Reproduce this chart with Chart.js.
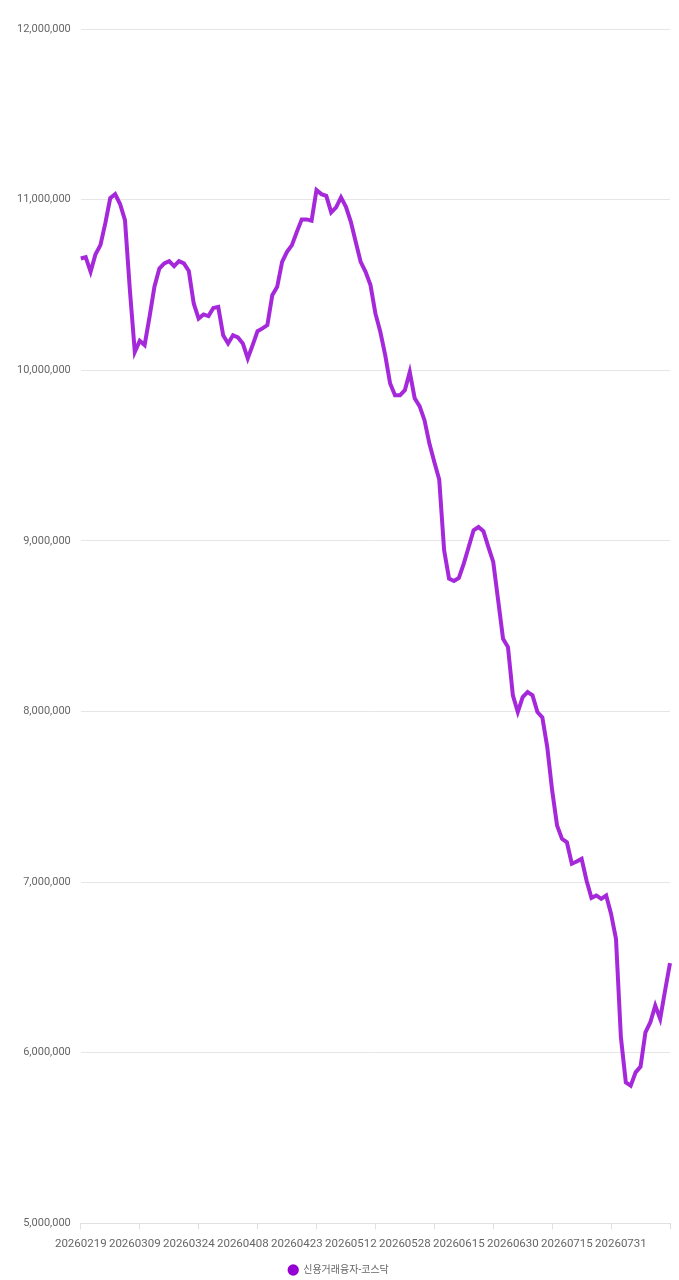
<!DOCTYPE html>
<html lang="ko">
<head>
<meta charset="utf-8">
<title>신용거래융자-코스닥</title>
<script src="https://cdn.jsdelivr.net/npm/chart.js@4.4.1/dist/chart.umd.min.js"></script>
<style>
    html, body { margin: 0; padding: 0; background: #ffffff; }
    #wrap { position: relative; width: 679px; height: 1280px; }
</style>
</head>
<body>
<div id="wrap"><canvas id="creditChart"></canvas></div>
<script>
// Trading days shown on the x axis
const dates = [
    '20260219', '20260220', '20260223', '20260224', '20260225', '20260226', '20260227',
    '20260303', '20260304', '20260305', '20260306', '20260309', '20260310', '20260311',
    '20260312', '20260313', '20260316', '20260317', '20260318', '20260319', '20260320',
    '20260323', '20260324', '20260325', '20260326', '20260327', '20260330', '20260331',
    '20260401', '20260402', '20260403', '20260406', '20260407', '20260408', '20260409',
    '20260410', '20260413', '20260414', '20260415', '20260416', '20260417', '20260420',
    '20260421', '20260422', '20260423', '20260424', '20260427', '20260428', '20260429',
    '20260430', '20260504', '20260506', '20260507', '20260508', '20260511', '20260512',
    '20260513', '20260514', '20260515', '20260518', '20260519', '20260520', '20260521',
    '20260522', '20260526', '20260527', '20260528', '20260529', '20260601', '20260602',
    '20260604', '20260605', '20260608', '20260609', '20260610', '20260611', '20260612',
    '20260615', '20260616', '20260617', '20260618', '20260619', '20260622', '20260623',
    '20260624', '20260625', '20260626', '20260629', '20260630', '20260701', '20260702',
    '20260703', '20260706', '20260707', '20260708', '20260709', '20260710', '20260713',
    '20260714', '20260715', '20260716', '20260720', '20260721', '20260722', '20260723',
    '20260724', '20260727', '20260728', '20260729', '20260730', '20260731', '20260803',
    '20260804', '20260805', '20260806', '20260807', '20260810', '20260811', '20260812',
    '20260813', '20260814'
];

// 신용거래융자 잔고 (코스닥)
const kosdaqCredit = [
    10655000, 10663000, 10577000, 10680000, 10733000, 10862000, 11009000, 11032000,
    10974000, 10880000, 10469000, 10107000, 10172000, 10147000, 10313000, 10489000,
    10596000, 10626000, 10639000, 10610000, 10639000, 10626000, 10582000, 10391000,
    10303000, 10327000, 10317000, 10365000, 10371000, 10205000, 10157000, 10205000,
    10192000, 10157000, 10069000, 10147000, 10229000, 10245000, 10264000, 10440000,
    10489000, 10635000, 10694000, 10733000, 10811000, 10884000, 10884000, 10876000,
    11056000, 11032000, 11022000, 10925000, 10954000, 11013000, 10958000, 10870000,
    10752000, 10635000, 10577000, 10499000, 10333000, 10225000, 10088000, 9922000,
    9853000, 9853000, 9883000, 9990000, 9836000, 9789000, 9707000, 9570000,
    9462000, 9359000, 8944000, 8778000, 8764000, 8782000, 8866000, 8964000,
    9062000, 9081000, 9056000, 8964000, 8876000, 8651000, 8426000, 8377000,
    8094000, 7996000, 8084000, 8113000, 8094000, 7996000, 7965000, 7791000,
    7537000, 7331000, 7253000, 7233000, 7107000, 7120000, 7136000, 7009000,
    6907000, 6921000, 6901000, 6921000, 6813000, 6667000, 6090000, 5826000,
    5806000, 5884000, 5918000, 6119000, 6178000, 6276000, 6198000, 6364000,
    6524000
];

// y axis range
const yMin = 5000000;
const yMax = 12000000;
const yStep = 1000000;

const LABEL_EVERY = 11;   // date label every n points
const TICK_EVERY = 12;    // small tick mark every n points

const lineColor = 'rgba(148, 0, 211, 0.84)';
const dotColor = '#9400d3';
const textColor = '#666666';
const gridColor = '#e6e6e6';
const fontFamily = "Roboto, 'Noto Sans CJK KR', sans-serif";

document.addEventListener('DOMContentLoaded', function() {
    const ctx = document.getElementById('creditChart').getContext('2d');
    new Chart(ctx, {
        type: 'line',
        data: {
            labels: dates,
            datasets: [{
                label: '신용거래융자-코스닥',
                data: kosdaqCredit,
                borderColor: lineColor,
                backgroundColor: dotColor,
                borderWidth: 4,
                pointRadius: 0,
                pointHoverRadius: 0,
                tension: 0,
                fill: false
            }]
        },
        options: {
            responsive: true,
            maintainAspectRatio: false,
            animation: false,
            layout: {
                padding: { top: 29, right: 9, bottom: -5, left: 7 }
            },
            plugins: {
                legend: {
                    position: 'bottom',
                    labels: {
                        usePointStyle: true,
                        pointStyle: 'circle',
                        boxHeight: 8,
                        color: textColor,
                        font: { family: fontFamily, size: 10 },
                        padding: 6,
                        generateLabels: function(chart) {
                            const items = Chart.defaults.plugins.legend.labels.generateLabels(chart);
                            items.forEach(item => {
                                item.fillStyle = dotColor;
                                item.lineWidth = 0;
                            });
                            return items;
                        }
                    }
                },
                tooltip: { enabled: false }
            },
            scales: {
                x: {
                    border: { display: true, color: '#e0e0e0', width: 1 },
                    grid: {
                        drawOnChartArea: false,
                        drawTicks: true,
                        tickLength: 6,
                        tickColor: function(c) {
                            return c.index % TICK_EVERY === 0 ? '#e0e0e0' : 'rgba(0,0,0,0)';
                        }
                    },
                    ticks: {
                        autoSkip: false,
                        maxRotation: 0,
                        minRotation: 0,
                        padding: 8,
                        color: textColor,
                        font: { family: fontFamily, size: 11.5 },
                        callback: function(value, index) {
                            return index % LABEL_EVERY === 0 ? this.getLabelForValue(value) : '';
                        }
                    }
                },
                y: {
                    min: yMin,
                    max: yMax,
                    border: { display: false },
                    grid: {
                        color: gridColor,
                        drawTicks: false
                    },
                    ticks: {
                        stepSize: yStep,
                        padding: 10,
                        color: textColor,
                        font: { family: fontFamily, size: 11 },
                        callback: function(value) {
                            return value.toLocaleString('en-US');
                        }
                    }
                }
            }
        }
    });
});
</script>
</body>
</html>
